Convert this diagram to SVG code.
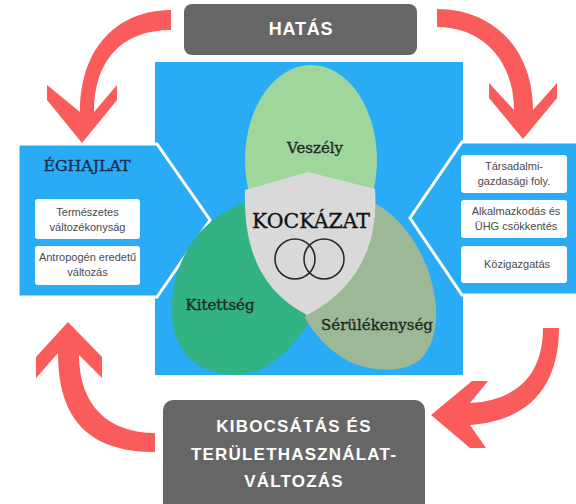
<svg xmlns="http://www.w3.org/2000/svg" width="576" height="504" viewBox="0 0 576 504">
<style>
.arrow{fill:#FA5C5C}
.dark{fill:#666666}
.panel{fill:#29ABF5;stroke:#FFFFFF;stroke-width:3;stroke-linejoin:miter}
.box{fill:#FFFFFF}
.boxt{font-family:"Liberation Sans",Arial,sans-serif;font-size:11px;fill:#4a4a4a;text-anchor:middle}
.head{font-family:"Liberation Sans",Arial,sans-serif;font-weight:bold;fill:#FFFFFF;text-anchor:middle}
.ser{font-family:"DejaVu Serif","Liberation Serif",serif;fill:#1f2a24;stroke:#1f2a24;stroke-width:0.35;text-anchor:middle}
</style>
<rect width="576" height="504" fill="#FFFFFF"/>
<g id="center-square">
<rect x="155" y="62" width="308" height="313" fill="#29ABF5"/>
</g>
<g id="climate">
<path class="panel" d="M18,144 L157,144 L210,220 L157,297 L18,297 Z"/>
<text class="ser" x="87" y="171" font-size="15" textLength="87" lengthAdjust="spacingAndGlyphs" style="fill:#1b2c4f;stroke:#1b2c4f">ÉGHAJLAT</text>
<rect class="box" x="35" y="199" width="105" height="40" rx="3"/>
<text class="boxt" x="87.5" y="216">Természetes</text>
<text class="boxt" x="87.5" y="231">változékonyság</text>
<rect class="box" x="35" y="246" width="105" height="39" rx="3"/>
<text class="boxt" x="87.5" y="261">Antropogén eredetű</text>
<text class="boxt" x="87.5" y="276">változás</text>
</g>
<g id="socio">
<path class="panel" d="M462,142 L580,142 L580,295 L462,295 L410,218 Z"/>
<rect class="box" x="461" y="155" width="106" height="38" rx="3"/>
<text class="boxt" x="514" y="170">Társadalmi-</text>
<text class="boxt" x="514" y="185">gazdasági foly.</text>
<rect class="box" x="461" y="200" width="106" height="38" rx="3"/>
<text class="boxt" x="516" y="215">Alkalmazkodás és</text>
<text class="boxt" x="516" y="230">ÜHG csökkentés</text>
<rect class="box" x="461" y="246" width="106" height="37" rx="3"/>
<text class="boxt" x="517" y="268">Közigazgatás</text>
</g>
<g id="hazard">
<ellipse cx="311" cy="160" rx="66" ry="95" fill="#9ED69C"/>
<text class="ser" x="315" y="153" font-size="15">Veszély</text>
</g>
<g id="exposure">
<path d="M300,190 C270,190 225,205 200,232 C178,256 168,295 173,325 C178,355 200,374 235,375 C265,376 292,350 312,318 C330,290 345,250 335,215 C328,195 315,190 300,190 Z" fill="#33B283"/>
<text class="ser" x="220" y="310" font-size="15">Kitettség</text>
</g>
<g id="vulnerability">
<path d="M360,198 C390,205 415,235 428,270 C440,305 440,340 420,360 C405,372 375,373 350,362 C330,352 315,335 305,318 L330,250 Z" fill="#9CB896"/>
<text class="ser" x="377" y="330" font-size="15">Sérülékenység</text>
</g>
<g id="risk">
<path d="M308,172 L375,189 C379,248 355,290 307,315 C262,292 243,250 245,190 Z" fill="#D9D9D9"/>
<text class="ser" x="311" y="228" font-size="21" textLength="118" lengthAdjust="spacingAndGlyphs" style="fill:#111111;stroke:#111111">KOCKÁZAT</text>
<circle cx="295" cy="259" r="20" fill="none" stroke="#2a2a2a" stroke-width="1.6"/>
<circle cx="324" cy="259" r="20" fill="none" stroke="#2a2a2a" stroke-width="1.6"/>
</g>
<g id="impact">
<rect class="dark" x="184" y="4" width="233" height="51" rx="8"/>
<text class="head" x="301" y="35" font-size="18" letter-spacing="0.8">HATÁS</text>
</g>
<g id="emission">
<rect class="dark" x="163" y="400" width="262" height="115" rx="10"/>
<text class="head" x="294" y="432" font-size="17" letter-spacing="1.2">KIBOCSÁTÁS ÉS</text>
<text class="head" x="294" y="460" font-size="17" letter-spacing="1.2">TERÜLETHASZNÁLAT-</text>
<text class="head" x="294" y="487" font-size="17" letter-spacing="1.2">VÁLTOZÁS</text>
</g>
<g id="connectors">
<path class="arrow" d="M171,10 C120,10 80,45 80,112 L47,85 L47,100 L82,143 L117,100 L117,85 L94,112 C94,60 122,30 171,30 Z"/>
<path class="arrow" d="M437,9 C492,9 533,48 533,110 L557,83 L557,98 L523,139 L489,98 L489,83 L514,110 C514,60 482,27 437,27 Z"/>
<path class="arrow" d="M559,328 C559,385 530,421 470,425 L486,448 L470,448 L431,415 L472,381 L488,381 L470,403 C520,400 543,372 543,328 Z"/>
<path class="arrow" d="M155,452 C100,452 58,430 58,353 L36,378 L36,357 L68,322 L102,357 L102,378 L79,355 C79,405 108,433 155,433 Z"/>
</g>
</svg>
